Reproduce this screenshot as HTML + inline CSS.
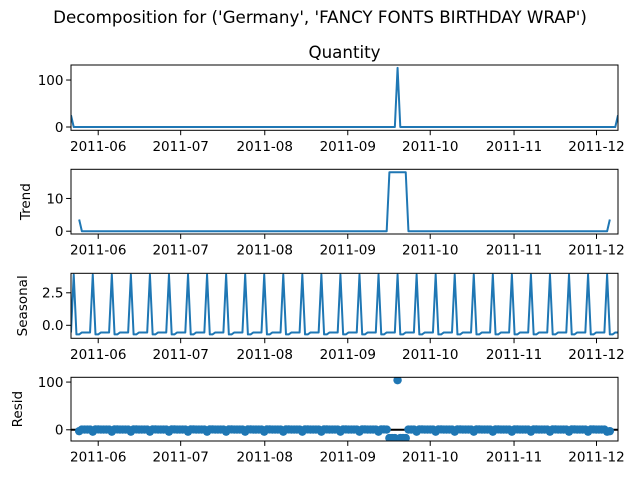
<!DOCTYPE html>
<html><head><meta charset="utf-8"><style>
html,body{margin:0;padding:0;background:#fff;}
svg{display:block;font-family:"DejaVu Sans","Liberation Sans",sans-serif;}
</style></head><body>
<svg id="fig" width="640" height="480" viewBox="0 0 640 480">
<text x="320" y="23" text-anchor="middle" font-size="16.7">Decomposition for ('Germany', 'FANCY FONTS BIRTHDAY WRAP')</text>
<text x="344.5" y="58" text-anchor="middle" font-size="16.7">Quantity</text>
</svg>
<script>
// Samples indexed 0..201 (irregular calendar spacing)
const observed = [
25,0,0,0,0,0,0,0,0,0,0,0,0,0,0,0,0,0,0,0,
0,0,0,0,0,0,0,0,0,0,0,0,0,0,0,0,0,0,0,0,
0,0,0,0,0,0,0,0,0,0,0,0,0,0,0,0,0,0,0,0,
0,0,0,0,0,0,0,0,0,0,0,0,0,0,0,0,0,0,0,0,
0,0,0,0,0,0,0,0,0,0,0,0,0,0,0,0,0,0,0,0,
0,0,0,0,0,0,0,0,0,0,0,0,0,0,0,0,0,0,0,0,
126,0,0,0,0,0,0,0,0,0,0,0,0,0,0,0,0,0,0,0,
0,0,0,0,0,0,0,0,0,0,0,0,0,0,0,0,0,0,0,0,
0,0,0,0,0,0,0,0,0,0,0,0,0,0,0,0,0,0,0,0,
0,0,0,0,0,0,0,0,0,0,0,0,0,0,0,0,0,0,0,0,
0,25];
const trend = [
null,null,null,3.57,0,0,0,0,0,0,0,0,0,0,0,0,0,0,0,0,
0,0,0,0,0,0,0,0,0,0,0,0,0,0,0,0,0,0,0,0,
0,0,0,0,0,0,0,0,0,0,0,0,0,0,0,0,0,0,0,0,
0,0,0,0,0,0,0,0,0,0,0,0,0,0,0,0,0,0,0,0,
0,0,0,0,0,0,0,0,0,0,0,0,0,0,0,0,0,0,0,0,
0,0,0,0,0,0,0,0,0,0,0,0,0,0,0,0,0,18,18,18,
18,18,18,18,0,0,0,0,0,0,0,0,0,0,0,0,0,0,0,0,
0,0,0,0,0,0,0,0,0,0,0,0,0,0,0,0,0,0,0,0,
0,0,0,0,0,0,0,0,0,0,0,0,0,0,0,0,0,0,0,0,
0,0,0,0,0,0,0,0,0,0,0,0,0,0,0,0,0,0,3.57,null,
null,null];
const seasonalPattern = [-0.55,3.9,-0.7,-0.7,-0.55,-0.55,-0.55];
const xTickLabels = ['2011-06','2011-07','2011-08','2011-09','2011-10','2011-11','2011-12'];
const xTickSample = [10.0,40.3,71.2,101.7,132.0,162.8,193.1];
const q_ticks = [0,100];
const trend_ticks = [0,10];
const seas_ticks = [0,2.5];
const resid_ticks = [0,100];

const seasonal = observed.map((v,i)=>seasonalPattern[i%7]);
const resid = observed.map((v,i)=> trend[i]===null ? null : v - trend[i] - seasonal[i]);

const NS='http://www.w3.org/2000/svg';
const svg=document.getElementById('fig');
const X0=71, X1=618, C='#1f77b4';
const xMin=0, xMax=observed.length-1;
const xs=d=>X0+(d-xMin)/(xMax-xMin)*(X1-X0);
function mk(tag,attrs,parent){const e=document.createElementNS(NS,tag);for(const k in attrs)e.setAttribute(k,attrs[k]);(parent||svg).appendChild(e);return e;}

const panels=[
 {name:'quantity',top:65,bot:130.3,ymin:-7,ymax:132,ticks:q_ticks,fmt:v=>String(v),label:null,data:observed,type:'line'},
 {name:'trend',top:169.3,bot:234,ymin:-0.85,ymax:18.9,ticks:trend_ticks,fmt:v=>String(v),label:'Trend',lx:30,data:trend,type:'line'},
 {name:'seasonal',top:273.3,bot:338.3,ymin:-1.0,ymax:4.0,ticks:seas_ticks,fmt:v=>v.toFixed(1),label:'Seasonal',lx:27,data:seasonal,type:'line'},
 {name:'resid',top:377.3,bot:441,ymin:-23.5,ymax:110,ticks:resid_ticks,fmt:v=>String(v),label:'Resid',lx:22,data:resid,type:'dots'}
];
panels.forEach(p=>{
  const g=mk('g',{});
  
  
  const ys=v=>p.bot-(v-p.ymin)/(p.ymax-p.ymin)*(p.bot-p.top);
  const clipId='clip-'+p.name;
  const cp=mk('clipPath',{id:clipId},g);
  mk('rect',{x:X0,y:p.top,width:X1-X0,height:p.bot-p.top},cp);
  const dg=mk('g',{'clip-path':'url(#'+clipId+')'},g);
  if(p.type==='line'){
    let segs=[],cur='';
    p.data.forEach((v,i)=>{ if(v===null){ if(cur){segs.push(cur);cur='';} return;}
      cur+=(cur?'L':'M')+xs(i).toFixed(2)+' '+ys(v).toFixed(2); });
    if(cur)segs.push(cur);
    const path=mk('path',{d:segs.join(''),fill:'none',stroke:C,'stroke-width':2,'stroke-linejoin':'round'},dg);
    
    
  } else {
    const zl=mk('line',{x1:X0,x2:X1,y1:ys(0),y2:ys(0),stroke:'#000','stroke-width':2},dg);
    
    
    p.data.forEach((v,i)=>{ if(v===null)return;
      const c=mk('circle',{cx:xs(i),cy:ys(v),r:4.2,fill:C},dg);
      
      
    });
  }
  const fr=mk('rect',{x:X0,y:p.top,width:X1-X0,height:p.bot-p.top,fill:'none',stroke:'#000','stroke-width':1},g);
  
  
  p.ticks.forEach(t=>{
    const y=ys(t);
    mk('line',{x1:X0-4.9,x2:X0,y1:y,y2:y,stroke:'#000','stroke-width':1},g);
    const tx=mk('text',{x:X0-7.5,y:y+4.8,'text-anchor':'end','font-size':13.5},g);
    tx.textContent=p.fmt(t);
    
    
  });
  xTickSample.forEach((s,k)=>{
    const x=xs(s);
    mk('line',{x1:x,x2:x,y1:p.bot,y2:p.bot+4.9,stroke:'#000','stroke-width':1},g);
    const tx=mk('text',{x:x,y:p.bot+20.5,'text-anchor':'middle','font-size':13.5},g);
    tx.textContent=xTickLabels[k];
    
    
  });
  if(p.label){
    const cy=(p.top+p.bot)/2;
    const lt=mk('text',{x:p.lx,y:cy,'text-anchor':'middle','font-size':13.5,transform:'rotate(-90 '+p.lx+' '+cy+')'},g);
    lt.textContent=p.label;
    
    
  }
});
</script>
</body></html>
